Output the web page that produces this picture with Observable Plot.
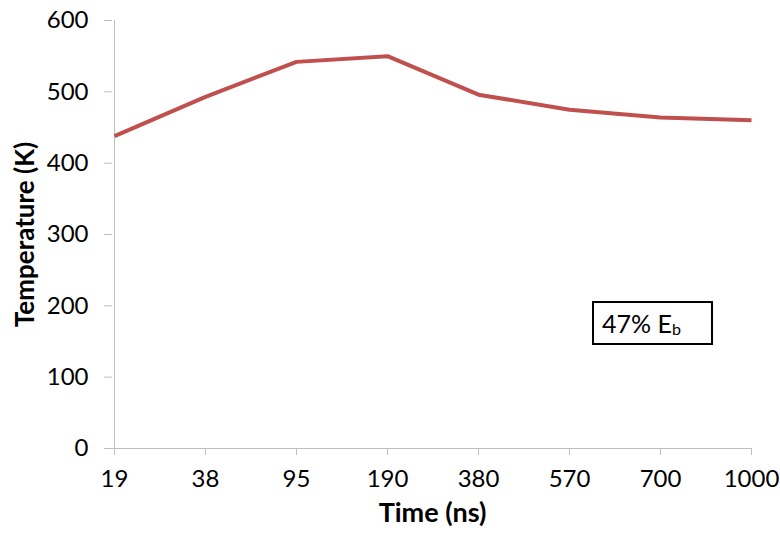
<!DOCTYPE html>
<html>
<head>
<meta charset="utf-8">
<script src="https://cdn.jsdelivr.net/npm/d3@7"></script>
<script src="https://cdn.jsdelivr.net/npm/@observablehq/plot@0.6"></script>
<style>
  html, body { margin: 0; padding: 0; background: #fff; }
  #wrap { position: relative; width: 780px; height: 538px; font-family: Lato, "Noto Sans", sans-serif; }
  #note {
    position: absolute; left: 592px; top: 301px; width: 117px; height: 40px;
    border: 2px solid #000; box-sizing: content-box;
    font-size: 25px; line-height: 40px; color: #000;
  }
  #note span.t { margin-left: 8px; }
  #note sub { font-size: 16px; vertical-align: -2px; line-height: 0; }
</style>
</head>
<body>
<div id="wrap"></div>
<script>
const times = ["19", "38", "95", "190", "380", "570", "700", "1000"];
const temperatures = [438, 493, 542, 550, 496, 475, 464, 460];
const yTicks = [0, 100, 200, 300, 400, 500, 600];
const xTitle = "Time (ns)";
const yTitle = "Temperature (K)";

const data = times.map((t, i) => ({time: t, temp: temperatures[i]}));

const axisGray = "#bfbfbf";
const chart = Plot.plot({
  width: 780,
  height: 538,
  marginLeft: 112,
  marginRight: 28,
  marginTop: 20,
  marginBottom: 90,
  style: {fontFamily: "Lato, 'Noto Sans', sans-serif", fontSize: "24px", color: "#000", background: "#fff"},
  x: {type: "point", domain: times, padding: 0},
  y: {domain: [0, 600]},
  marks: [
    Plot.ruleY([0], {stroke: axisGray, strokeWidth: 1}),
    Plot.ruleX([times[0]], {stroke: axisGray, strokeWidth: 1}),
    Plot.axisY(yTicks, {tickSize: 8, tickPadding: 16, stroke: axisGray, label: null, fontSize: 24, fill: "#000"}),
    Plot.axisX(times, {tickSize: 7, tickPadding: 14, stroke: axisGray, label: null, fontSize: 24, fill: "#000"}),
    Plot.text([yTitle], {frameAnchor: "left", dx: -87, rotate: -90, fontSize: 26, fontWeight: "bold", textAnchor: "middle"}),
    Plot.text([xTitle], {frameAnchor: "bottom", dy: 73, fontSize: 27, fontWeight: "bold"}),
    Plot.line(data, {x: "time", y: "temp", stroke: "#c0504d", strokeWidth: 4, strokeLinejoin: "round", strokeLinecap: "butt"})
  ]
});
const wrap = document.getElementById("wrap");
wrap.appendChild(chart);
const note = document.createElement("div");
note.id = "note";
note.innerHTML = '<span class="t">47% E<sub>b</sub></span>';
wrap.appendChild(note);
</script>
</body>
</html>
